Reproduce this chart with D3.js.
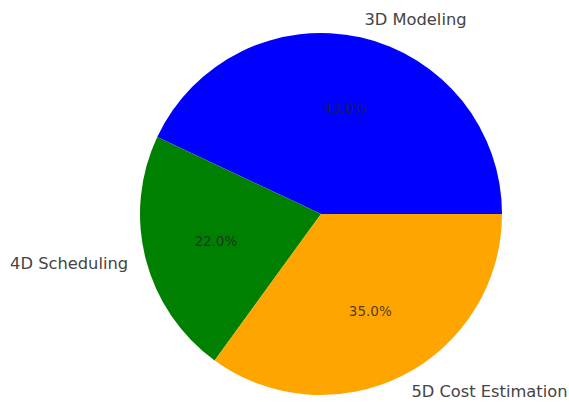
<!DOCTYPE html>
<html>
<head>
<meta charset="utf-8">
<script src="https://cdn.jsdelivr.net/npm/d3@7"></script>
<style>
  html, body { margin: 0; padding: 0; background: #fff; }
  svg text { font-family: "DejaVu Sans", sans-serif; }
</style>
</head>
<body>
<svg id="chart" width="569" height="402"></svg>
<script>
// BIM dimension shares
const categories = ["3D Modeling", "4D Scheduling", "5D Cost Estimation"];
const shares = [43, 22, 35];
const colors = ["blue", "green", "orange"];

const svg = d3.select("#chart");
const cx = 321, cy = 214, r = 181;
const labelSize = 16.3;
const pctSize = 13.5;

const data = categories.map((c, i) => ({ name: c, value: shares[i], color: colors[i] }));

// Slices run counter-clockwise from 3 o'clock; convert to d3's clockwise-from-12 angles.
const pie = d3.pie().value(d => d.value).sort(null)
  .startAngle(Math.PI / 2).endAngle(Math.PI / 2 - 2 * Math.PI);
const arcs = pie(data);
const arc = d3.arc().innerRadius(0).outerRadius(r);

const g = svg.append("g").attr("transform", `translate(${cx},${cy})`);

g.selectAll("path.slice").data(arcs).join("path")
  .attr("class", "slice")
  .attr("d", arc)
  .attr("fill", d => d.data.color);

const total = d3.sum(shares);
function pos(d, k) {
  const a = (d.startAngle + d.endAngle) / 2; // d3 angle, 0 at top, clockwise
  return [Math.sin(a) * r * k, -Math.cos(a) * r * k];
}

// Category labels outside the pie
g.selectAll("text.label").data(arcs).join("text")
  .attr("class", "label")
  .attr("x", d => pos(d, 1.1)[0])
  .attr("y", d => pos(d, 1.1)[1])
  .attr("text-anchor", d => pos(d, 1.1)[0] >= 0 ? "start" : "end")
  .attr("dominant-baseline", "central")
  .attr("font-size", labelSize)
  .attr("fill", "#444")
  .text(d => d.data.name);

// Percentage labels inside the slices
g.selectAll("text.pct").data(arcs).join("text")
  .attr("class", "pct")
  .attr("x", d => pos(d, 0.6)[0])
  .attr("y", d => pos(d, 0.6)[1])
  .attr("text-anchor", "middle")
  .attr("dominant-baseline", "central")
  .attr("font-size", pctSize)
  .attr("fill", "#222")
  .attr("fill-opacity", 0.8)
  .text(d => (d.data.value / total * 100).toFixed(1) + "%");
</script>
</body>
</html>
